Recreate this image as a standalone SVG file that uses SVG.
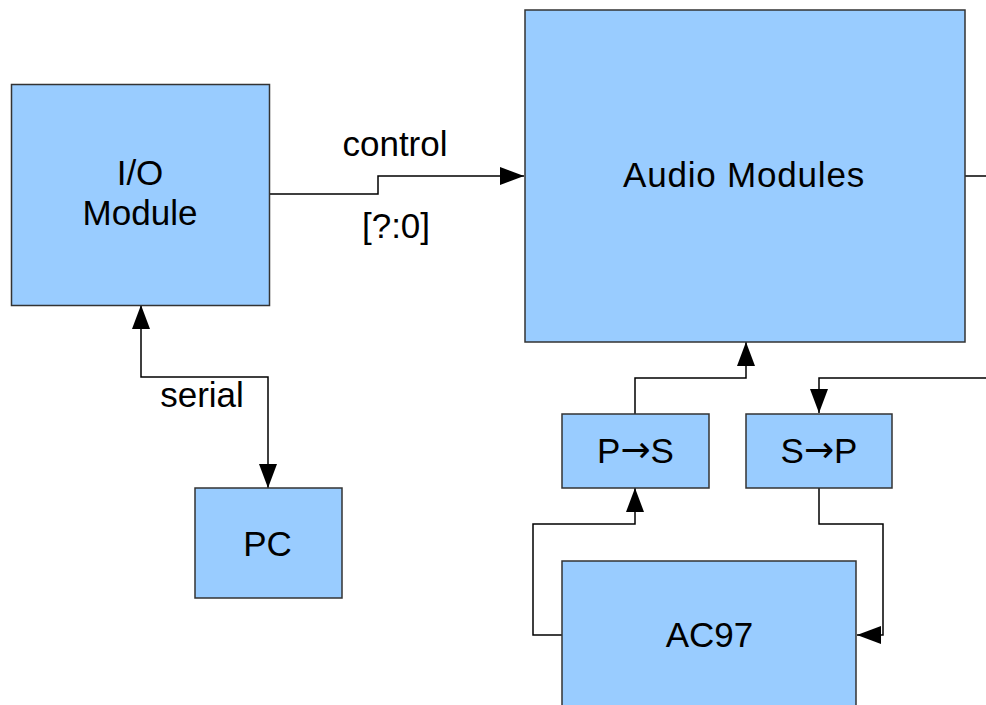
<svg xmlns="http://www.w3.org/2000/svg" width="986" height="705" viewBox="0 0 986 705">
<style>
.box{fill:#99ccff;stroke:#333;stroke-width:1.5}
.lbl{font-family:"Liberation Sans",Arial,sans-serif;font-size:35px;fill:#000;text-anchor:middle}
.arr{font-family:"DejaVu Sans",sans-serif;font-size:36px}
.wire{fill:none;stroke:#000;stroke-width:1.5}
</style>
<defs>
<marker id="ah" markerUnits="userSpaceOnUse" markerWidth="24" markerHeight="18" viewBox="0 0 24 18" refX="24" refY="9" orient="auto-start-reverse">
<path d="M0,0 L24,9 L0,18 z" fill="#000"/>
</marker>
</defs>
<rect width="986" height="705" fill="#fff"/>
<g id="connectors">
<path class="wire" d="M269,194 H378 V176 H524" marker-end="url(#ah)"/>
<path class="wire" d="M965,176 H986"/>
<path class="wire" d="M986,378 H819 V413" marker-end="url(#ah)"/>
<path class="wire" d="M635,414 V378 H746 V342" marker-end="url(#ah)"/>
<path class="wire" d="M562,635 H533 V524 H635 V488" marker-end="url(#ah)"/>
<path class="wire" d="M819,488 V524 H883 V635 H857" marker-end="url(#ah)"/>
<path class="wire" d="M141,305 V377 H268 V488" marker-start="url(#ah)" marker-end="url(#ah)"/>
<text class="lbl" x="395" y="156">control</text>
<text class="lbl" x="396" y="238">[?:0]</text>
<text class="lbl" x="202" y="407">serial</text>
</g>
<g id="io">
<rect class="box" x="11.5" y="84.5" width="258" height="221"/>
<text class="lbl" x="140" y="185">I/O</text>
<text class="lbl" x="140" y="225">Module</text>
</g>
<g id="audio">
<rect class="box" x="525" y="10" width="440" height="332"/>
<text class="lbl" x="744" y="187" letter-spacing="0.8">Audio Modules</text>
</g>
<g id="ps">
<rect class="box" x="562" y="414" width="147" height="74"/>
<text class="lbl" x="635.5" y="463">P<tspan class="arr" dy="-1">→</tspan><tspan dy="1">S</tspan></text>
</g>
<g id="sp">
<rect class="box" x="746" y="414" width="146" height="74"/>
<text class="lbl" x="819" y="463">S<tspan class="arr" dy="-1">→</tspan><tspan dy="1">P</tspan></text>
</g>
<g id="ac97">
<rect class="box" x="562" y="561" width="294" height="160"/>
<text class="lbl" x="709.5" y="647">AC97</text>
</g>
<g id="pc">
<rect class="box" x="195" y="488" width="147" height="110"/>
<text class="lbl" x="267.5" y="556">PC</text>
</g>
</svg>
